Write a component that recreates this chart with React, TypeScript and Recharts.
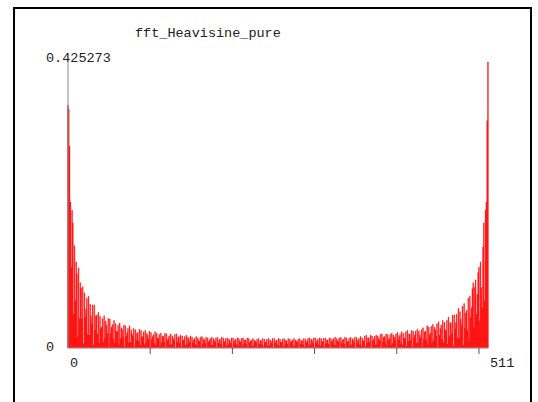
import { BarChart, Bar, XAxis, YAxis } from "recharts";

const title = "fft_Heavisine_pure";
const yMax = 0.425273;
const yTicks = [0, yMax];
const xMarks = [100, 200, 300, 400, 500];
const xLabels: Array<{ value: number; label: string }> = [
  { value: 0, label: "0" },
  { value: 511, label: "511" }
];

// magnitude per bin (bins 0..511)
const magnitudes = [
  0.361, 0.355, 0.3, 0.217, 0.12, 0.205, 0.186, 0.05, 0.152, 0.07,
  0.128, 0.11, 0.016, 0.119, 0.044, 0.097, 0.089, 0.043, 0.091, 0.006,
  0.082, 0.046, 0.058, 0.074, 0.02, 0.077, 0.019, 0.065, 0.048, 0.036,
  0.064, 0.004, 0.064, 0.027, 0.048, 0.049, 0.021, 0.053, 0.007, 0.047,
  0.029, 0.031, 0.044, 0.009, 0.048, 0.015, 0.04, 0.034, 0.022, 0.044,
  0.001, 0.043, 0.021, 0.031, 0.035, 0.013, 0.041, 0.007, 0.036, 0.025,
  0.024, 0.034, 0.005, 0.037, 0.014, 0.03, 0.027, 0.015, 0.034, 0.002,
  0.033, 0.018, 0.023, 0.029, 0.008, 0.033, 0.008, 0.027, 0.021, 0.017,
  0.029, 0.002, 0.027, 0.012, 0.022, 0.023, 0.01, 0.028, 0.004, 0.026,
  0.016, 0.017, 0.024, 0.005, 0.026, 0.008, 0.022, 0.019, 0.013, 0.025,
  0.001, 0.023, 0.012, 0.017, 0.02, 0.007, 0.024, 0.004, 0.022, 0.015,
  0.014, 0.02, 0.003, 0.022, 0.008, 0.018, 0.017, 0.009, 0.022, 0.001,
  0.021, 0.011, 0.014, 0.018, 0.005, 0.021, 0.005, 0.018, 0.014, 0.011,
  0.02, 0.001, 0.021, 0.009, 0.016, 0.017, 0.007, 0.019, 0.002, 0.018,
  0.011, 0.012, 0.017, 0.004, 0.019, 0.006, 0.016, 0.014, 0.009, 0.018,
  0.001, 0.016, 0.008, 0.012, 0.014, 0.005, 0.017, 0.003, 0.015, 0.011,
  0.01, 0.016, 0.002, 0.017, 0.006, 0.014, 0.012, 0.007, 0.016, 0.001,
  0.015, 0.009, 0.011, 0.014, 0.004, 0.016, 0.004, 0.014, 0.011, 0.009,
  0.015, 0.001, 0.016, 0.007, 0.012, 0.013, 0.006, 0.016, 0.002, 0.015,
  0.009, 0.01, 0.014, 0.003, 0.015, 0.005, 0.013, 0.011, 0.007, 0.015,
  0.001, 0.015, 0.007, 0.011, 0.013, 0.005, 0.015, 0.003, 0.014, 0.01,
  0.009, 0.014, 0.002, 0.015, 0.006, 0.012, 0.012, 0.006, 0.015, 0.001,
  0.014, 0.008, 0.01, 0.012, 0.003, 0.014, 0.003, 0.012, 0.01, 0.008,
  0.013, 0.001, 0.014, 0.006, 0.011, 0.011, 0.005, 0.014, 0.002, 0.013,
  0.008, 0.009, 0.013, 0.003, 0.014, 0.004, 0.012, 0.01, 0.007, 0.014,
  0.001, 0.014, 0.007, 0.01, 0.012, 0.004, 0.014, 0.003, 0.013, 0.009,
  0.008, 0.013, 0.002, 0.014, 0.005, 0.011, 0.011, 0.006, 0.014, 0.001,
  0.013, 0.008, 0.01, 0.012, 0.003, 0.014, 0.003, 0.012, 0.01, 0.008,
  0.013, 0.001, 0.014, 0.006, 0.011, 0.011, 0.005, 0.014, 0.002, 0.013,
  0.008, 0.01, 0.014, 0.003, 0.015, 0.005, 0.013, 0.011, 0.007, 0.015,
  0.001, 0.015, 0.007, 0.011, 0.013, 0.005, 0.015, 0.003, 0.014, 0.01,
  0.009, 0.014, 0.002, 0.015, 0.006, 0.012, 0.012, 0.006, 0.015, 0.001,
  0.014, 0.009, 0.011, 0.014, 0.004, 0.016, 0.004, 0.014, 0.011, 0.009,
  0.015, 0.001, 0.016, 0.007, 0.012, 0.013, 0.006, 0.016, 0.002, 0.015,
  0.009, 0.01, 0.014, 0.003, 0.016, 0.005, 0.014, 0.012, 0.008, 0.016,
  0.001, 0.016, 0.008, 0.012, 0.014, 0.005, 0.017, 0.003, 0.015, 0.011,
  0.01, 0.018, 0.002, 0.019, 0.007, 0.015, 0.015, 0.008, 0.019, 0.001,
  0.018, 0.01, 0.013, 0.017, 0.005, 0.019, 0.005, 0.018, 0.014, 0.011,
  0.02, 0.001, 0.021, 0.009, 0.016, 0.017, 0.008, 0.021, 0.003, 0.02,
  0.012, 0.014, 0.02, 0.004, 0.022, 0.007, 0.019, 0.016, 0.011, 0.021,
  0.001, 0.023, 0.012, 0.017, 0.02, 0.007, 0.024, 0.004, 0.022, 0.015,
  0.014, 0.024, 0.003, 0.026, 0.01, 0.021, 0.02, 0.011, 0.026, 0.002,
  0.025, 0.015, 0.019, 0.025, 0.007, 0.028, 0.007, 0.025, 0.019, 0.015,
  0.027, 0.002, 0.03, 0.013, 0.024, 0.025, 0.012, 0.033, 0.004, 0.031,
  0.019, 0.022, 0.032, 0.007, 0.035, 0.011, 0.031, 0.027, 0.018, 0.036,
  0.001, 0.039, 0.019, 0.029, 0.034, 0.013, 0.041, 0.008, 0.038, 0.027,
  0.025, 0.041, 0.006, 0.046, 0.017, 0.038, 0.037, 0.021, 0.049, 0.003,
  0.049, 0.028, 0.038, 0.05, 0.014, 0.059, 0.015, 0.054, 0.043, 0.034,
  0.062, 0.004, 0.066, 0.029, 0.052, 0.056, 0.026, 0.074, 0.01, 0.077,
  0.045, 0.06, 0.088, 0.097, 0.03, 0.09, 0.101, 0.05, 0.08, 0.112,
  0.12, 0.04, 0.128, 0.09, 0.06, 0.15, 0.186, 0.07, 0.205, 0.217,
  0.338, 0.425273
];

const data = magnitudes.map((v, k) => ({ k, v }));

const font = "'Liberation Mono', 'DejaVu Sans Mono', monospace";

function XTick(props: any) {
  const { x, y, payload } = props;
  const lab = xLabels.find((l) => l.value === payload.value);
  return (
    <g>
      {xMarks.includes(payload.value) && (
        <line x1={x} y1={y} x2={x} y2={y + 6} stroke="#555" strokeWidth={1} />
      )}
      {lab && (
        <text x={x + 2} y={y + 19} fontFamily={font} fontSize={13.5} fill="#222" textAnchor="start">
          {lab.label}
        </text>
      )}
    </g>
  );
}

function YTick(props: any) {
  const { x, y, payload } = props;
  const dy = payload.value === 0 ? 3 : 0;
  return (
    <text x={x - 22} y={y + dy} fontFamily={font} fontSize={13.5} fill="#222" textAnchor="start">
      {payload.value === 0 ? "0" : String(yMax)}
    </text>
  );
}

export default function App() {
  return (
    <div style={{ position: "absolute", left: 0, top: 0, width: 538, height: 402, background: "#fff", overflow: "hidden" }}>
      <div
        style={{
          position: "absolute",
          left: 13,
          top: 7,
          width: 515,
          height: 420,
          border: "2px solid #000"
        }}
      />
      <div
        style={{
          position: "absolute",
          left: 135,
          top: 26,
          fontFamily: font,
          fontSize: 13.5,
          lineHeight: "16px",
          color: "#222",
          whiteSpace: "nowrap"
        }}
      >
        {title}
      </div>
      <div style={{ position: "absolute", left: 0, top: 0 }}>
        <BarChart
          width={538}
          height={402}
          data={data}
          margin={{ top: 62, right: 50, bottom: 24, left: 8 }}
          barCategoryGap={0}
          barGap={0}
        >
          <XAxis
            type="number"
            dataKey="k"
            domain={[0, 511]}
            ticks={[0, 100, 200, 300, 400, 500, 511]}
            interval={0}
            height={30}
            tickSize={0}
            tickMargin={0}
            tickLine={false}
            axisLine={{ stroke: "#999" }}
            tick={<XTick />}
          />
          <YAxis
            type="number"
            domain={[0, yMax]}
            ticks={yTicks}
            interval={0}
            width={60}
            tickSize={0}
            tickMargin={0}
            tickLine={false}
            axisLine={{ stroke: "#888" }}
            tick={<YTick />}
          />
          <Bar
            dataKey="v"
            fill="#ff0000"
            stroke="#ff0000"
            strokeWidth={0.4}
            barSize={1}
            isAnimationActive={false}
          />
        </BarChart>
      </div>
    </div>
  );
}
